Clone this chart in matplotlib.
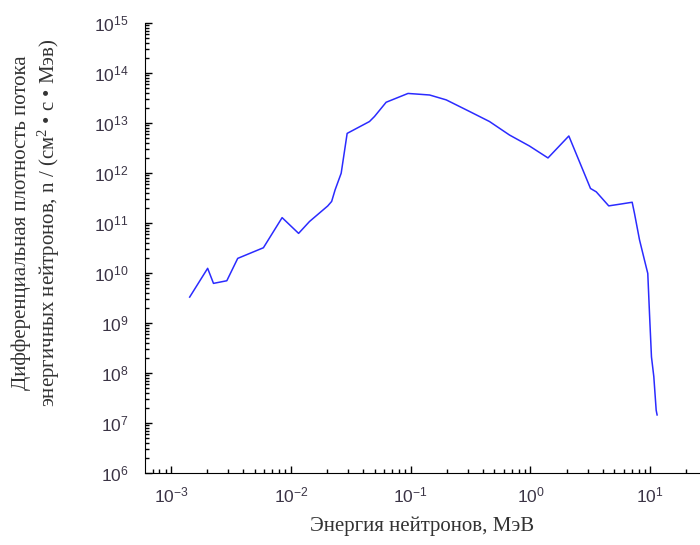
import matplotlib
matplotlib.use("Agg")
import matplotlib.pyplot as plt
from matplotlib.ticker import LogLocator, LogFormatterSciNotation, NullFormatter

plt.rcParams['font.family'] = ['Liberation Sans', 'DejaVu Sans']
plt.rcParams['mathtext.fontset'] = 'custom'
plt.rcParams['mathtext.rm'] = 'Liberation Sans'
plt.rcParams['mathtext.default'] = 'regular'
plt.rcParams['axes.unicode_minus'] = False

# neutron energy, MeV
energy = [1.43e-3, 2.02e-3, 2.26e-3, 2.92e-3, 3.6e-3, 5.9e-3, 8.45e-3, 1.16e-2,
          1.43e-2, 2.03e-2, 2.19e-2, 2.34e-2, 2.63e-2, 2.95e-2, 4.53e-2, 4.99e-2,
          6.24e-2, 9.5e-2, 0.111, 0.144, 0.198, 0.31, 0.455, 0.668, 0.98, 1.40,
          2.09, 3.17, 3.54, 4.5, 5.71, 7.06, 7.38, 8.13, 8.95, 9.53, 9.85, 10.23,
          10.7, 11.2, 11.4]
# differential flux density
flux = [3.3e9, 1.24e10, 6.2e9, 7.0e9, 1.96e10, 3.2e10, 1.28e11, 6.2e10,
        1.07e11, 2.19e11, 2.7e11, 4.6e11, 9.9e11, 6.2e12, 1.07e13, 1.35e13,
        2.6e13, 3.9e13, 3.8e13, 3.63e13, 2.9e13, 1.7e13, 1.07e13, 5.75e12, 3.47e12, 2.0e12,
        5.5e12, 4.9e11, 4.2e11, 2.2e11, 2.4e11, 2.6e11, 1.56e11, 4.6e10, 1.8e10, 9.8e9, 1.55e9, 2.1e8,
        8.5e7, 1.8e7, 1.45e7]

xlabel = "Энергия нейтронов, МэВ"
ylabel = "Дифференциальная плотность потока\nэнергичных нейтронов, n / (см$^2$ • с • Мэв)"

fig = plt.figure(figsize=(7, 5.45), dpi=100)
ax = fig.add_axes([145 / 700, 72 / 545, 1 - 145 / 700, 450 / 545])

ax.plot(energy, flux, color='#2b2bff', linewidth=1.1)

ax.set_xscale('log')
ax.set_yscale('log')
ax.set_xlim(6.06e-4, 26)
ax.set_ylim(1e6, 1e15)

ax.xaxis.set_major_locator(LogLocator(base=10, numticks=20))
ax.yaxis.set_major_locator(LogLocator(base=10, numticks=20))
ax.xaxis.set_minor_locator(LogLocator(base=10, subs=range(2, 10), numticks=20))
ax.yaxis.set_minor_locator(LogLocator(base=10, subs=range(2, 10), numticks=20))
ax.xaxis.set_minor_formatter(NullFormatter())
ax.yaxis.set_minor_formatter(NullFormatter())
ax.xaxis.set_major_formatter(LogFormatterSciNotation())
ax.yaxis.set_major_formatter(LogFormatterSciNotation())

ax.tick_params(which='major', direction='in', length=5, width=1, labelsize=12.5,
               labelcolor='#3b3445')
ax.tick_params(axis='y', which='major', pad=12)
ax.tick_params(axis='x', which='major', pad=9)
ax.tick_params(which='minor', direction='in', length=3, width=1)

ax.spines['top'].set_visible(False)
ax.spines['right'].set_visible(False)

ax.set_xlabel(xlabel, family=['Liberation Serif', 'DejaVu Serif'], fontsize=15,
              color='#333333', labelpad=8)
ax.set_ylabel(ylabel, family=['Liberation Serif', 'DejaVu Serif'], fontsize=15,
              color='#333333', linespacing=1.25)
ax.yaxis.set_label_coords(-0.149, 0.556)

fig.savefig('out.png', dpi=100)
